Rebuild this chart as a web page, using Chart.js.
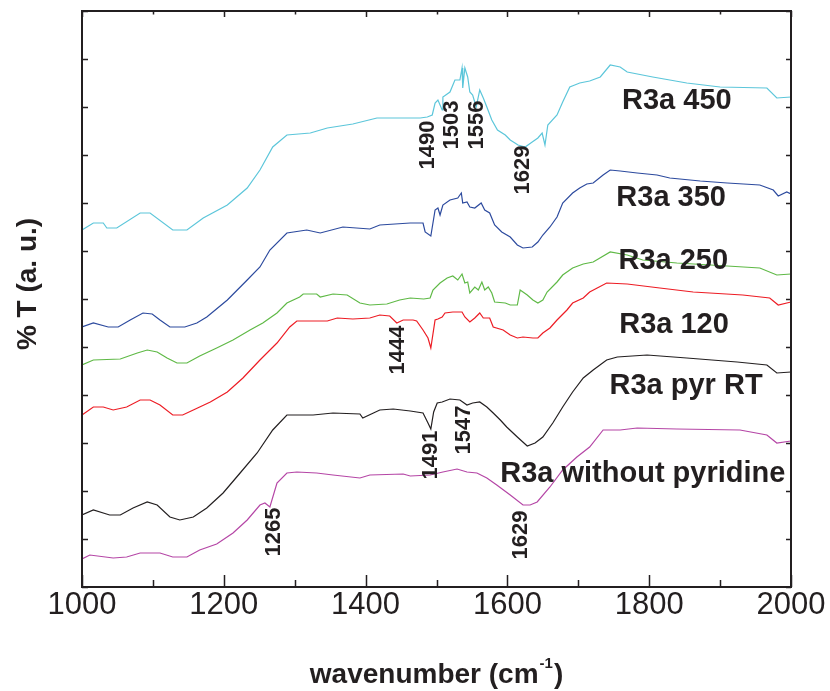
<!DOCTYPE html>
<html lang="en">
<head>
<meta charset="UTF-8">
<title>R3a pyridine FTIR</title>
<script src="https://cdn.jsdelivr.net/npm/chart.js"></script>
<style>
  body { margin: 0; background: #fff; }
  #wrap { width: 830px; height: 691px; }
</style>
</head>
<body>
<div id="wrap"><canvas id="ftir" width="830" height="691"></canvas></div>
<script>
// spectra: wavenumber (cm-1) and %T in stacked arbitrary units
const wn450 = [1000,1016,1030,1035,1049,1082,1096,1128,1148,1171,1205,1233,1251,1269,1289,1322,1346,1382,1416,1463,1477,1487,1494,1498,1502,1508,1509,1519,1526,1533,1536,1537,1540,1544,1547,1551,1556,1561,1566,1571,1578,1586,1597,1604,1615,1625,1635,1643,1649,1653,1657,1670,1678,1688,1695,1702,1716,1731,1745,1759,1769,1805,1853,1900,1966,1980,2000];
const t450  = [357,364,364,359,359,374,374,357,357,369,382,399,417,440,452,454,459,463,469,469,469,470,472,484,487,477,490,495,507,507,519,499,519,510,495,492,480,497,489,480,467,457,452,447,442,440,445,449,454,442,462,472,485,500,502,504,506,510,522,520,515,510,504,500,499,489,490];

const wn350 = [1000,1016,1037,1051,1068,1086,1099,1110,1124,1145,1162,1176,1205,1233,1251,1265,1289,1317,1336,1368,1406,1420,1463,1481,1484,1492,1498,1502,1505,1509,1519,1530,1535,1537,1543,1547,1554,1563,1568,1575,1582,1592,1604,1614,1622,1635,1643,1650,1660,1670,1678,1692,1702,1712,1721,1735,1745,1759,1783,1811,1829,1872,1910,1956,1975,1982,1994,2000];
const t350  = [260,264,260,260,267,274,273,267,260,260,264,270,287,307,320,337,354,357,354,360,358,362,364,364,355,351,377,379,372,382,387,389,394,384,385,380,379,384,377,374,362,355,350,342,339,340,345,352,360,370,384,394,399,403,404,412,417,416,414,412,409,406,404,402,397,391,395,393];

const wn250 = [1000,1016,1054,1078,1092,1106,1120,1134,1148,1166,1190,1213,1237,1255,1275,1289,1307,1312,1331,1336,1354,1374,1392,1406,1430,1448,1463,1482,1491,1495,1505,1515,1523,1530,1536,1540,1544,1547,1554,1559,1564,1568,1573,1578,1582,1597,1604,1614,1618,1628,1636,1643,1650,1656,1670,1678,1692,1707,1721,1745,1769,1791,1839,1910,1956,1980,2000];
const t250  = [222,227,228,234,237,235,229,224,224,231,239,247,257,264,274,284,290,293,293,290,293,292,284,282,283,287,289,288,289,297,304,309,311,307,313,304,305,294,300,297,305,297,300,294,285,284,282,282,297,292,287,284,287,295,305,312,319,323,325,335,332,327,324,321,319,312,313];

const wn120 = [1000,1016,1030,1044,1063,1082,1096,1110,1128,1142,1157,1181,1205,1227,1251,1275,1293,1303,1346,1360,1382,1406,1420,1434,1444,1453,1467,1472,1481,1488,1492,1498,1502,1508,1512,1523,1536,1540,1547,1554,1561,1566,1575,1580,1594,1604,1614,1622,1636,1643,1650,1660,1670,1684,1692,1707,1716,1740,1769,1815,1862,1932,1970,1982,2000];
const t120  = [172,180,180,177,180,187,187,182,172,172,177,185,195,209,227,244,260,266,266,269,268,269,272,271,264,267,267,266,257,249,239,267,268,270,274,275,275,270,265,269,274,269,269,260,257,252,249,250,249,249,254,259,267,277,284,289,295,304,303,299,295,292,289,282,285];

const wnRT = [1000,1016,1039,1054,1072,1092,1106,1124,1138,1157,1176,1199,1223,1247,1269,1289,1326,1354,1392,1396,1420,1439,1463,1481,1488,1492,1496,1501,1508,1519,1533,1543,1551,1561,1571,1580,1590,1599,1614,1628,1639,1650,1664,1678,1692,1707,1721,1740,1755,1797,1853,1924,1966,1980,2000];
const tRT  = [72,77,72,72,79,85,82,70,67,70,79,94,114,134,157,172,172,174,173,169,177,178,176,174,164,158,175,184,185,188,187,182,184,185,180,174,167,160,150,141,144,150,164,180,195,209,217,227,230,232,229,225,222,214,215];

const wnBare = [1000,1011,1044,1063,1082,1110,1128,1148,1166,1190,1213,1233,1251,1258,1265,1275,1289,1303,1331,1354,1392,1406,1453,1463,1491,1509,1529,1543,1557,1571,1585,1604,1622,1632,1642,1660,1678,1698,1716,1735,1759,1783,1839,1928,1966,1980,2000];
const tBare  = [28,32,29,30,34,34,30,30,37,43,54,67,82,84,80,104,114,115,114,112,109,112,113,111,112,115,118,115,114,109,102,92,82,82,85,100,117,130,140,157,157,159,158,157,152,144,146];

const seriesNames = ['R3a 450', 'R3a 350', 'R3a 250', 'R3a 120', 'R3a pyr RT', 'R3a without pyridine'];
const xMajorTicks = [1000, 1200, 1400, 1600, 1800, 2000];
const xMinorTicks = [1100, 1300, 1500, 1700, 1900];
const yTicks = [0, 48, 96, 144, 192, 240, 288, 336, 384, 432, 480, 528, 576];
const peakLabels = ['1490', '1503', '1556', '1629', '1444', '1491', '1547', '1265', '1629'];

// where the texts sit, in axis units
const nameAt = [[1839, 486], [1831, 389], [1834, 326], [1835, 262], [1852, 201], [1791, 113]];
const peakAt = [[1488, 442], [1522, 462], [1557, 462], [1622, 417], [1446, 237], [1492, 132], [1539, 157], [1271, 55], [1619, 52]];

const INK = '#231f20';
const FONT = '"Liberation Sans", Arial, Helvetica, sans-serif';

function pts(xs, ys) {
    return xs.map((v, i) => ({ x: v, y: ys[i] }));
}

const spectra = [
    { wn: wn450, t: t450, color: '#5cc6da' },
    { wn: wn350, t: t350, color: '#2c4a9e' },
    { wn: wn250, t: t250, color: '#5fb946' },
    { wn: wn120, t: t120, color: '#ed1c24' },
    { wn: wnRT, t: tRT, color: '#231f20' },
    { wn: wnBare, t: tBare, color: '#b546a6' }
];

const frame = {
    id: 'frame',
    afterDatasetsDraw(chart) {
        const { ctx, chartArea: a, scales: { x, y } } = chart;
        ctx.save();

        // box + inward ticks
        ctx.strokeStyle = INK;
        ctx.lineWidth = 2;
        ctx.strokeRect(a.left, a.top, a.right - a.left, a.bottom - a.top);
        ctx.lineWidth = 1.5;
        ctx.beginPath();
        xMajorTicks.concat(xMinorTicks).forEach(v => {
            const len = xMajorTicks.includes(v) ? 12 : 7;
            const px = Math.round(x.getPixelForValue(v)) + 0.5;
            ctx.moveTo(px, a.bottom); ctx.lineTo(px, a.bottom - len);
            ctx.moveTo(px, a.top); ctx.lineTo(px, a.top + len / 2);
        });
        yTicks.forEach(v => {
            const py = Math.round(y.getPixelForValue(v)) + 0.5;
            ctx.moveTo(a.left, py); ctx.lineTo(a.left + 6, py);
            ctx.moveTo(a.right, py); ctx.lineTo(a.right - 5, py);
        });
        ctx.stroke();

        ctx.fillStyle = INK;
        ctx.textAlign = 'center';
        ctx.textBaseline = 'middle';

        // spectrum names
        ctx.font = 'bold 29px ' + FONT;
        seriesNames.forEach((s, i) => {
            ctx.fillText(s, x.getPixelForValue(nameAt[i][0]), y.getPixelForValue(nameAt[i][1]));
        });

        // peak positions, vertical
        ctx.font = 'bold 22px ' + FONT;
        peakLabels.forEach((s, i) => {
            ctx.save();
            ctx.translate(x.getPixelForValue(peakAt[i][0]), y.getPixelForValue(peakAt[i][1]));
            ctx.rotate(-Math.PI / 2);
            ctx.fillText(s, 0, 0);
            ctx.restore();
        });

        // y title
        ctx.save();
        ctx.font = 'bold 28px ' + FONT;
        ctx.translate(28, 284);
        ctx.rotate(-Math.PI / 2);
        ctx.fillText('% T (a. u.)', 0, 0);
        ctx.restore();

        // x title with superscript
        ctx.textAlign = 'left';
        ctx.textBaseline = 'alphabetic';
        const big = 'bold 28px ' + FONT, small = 'bold 15px ' + FONT;
        ctx.font = big;
        const w1 = ctx.measureText('wavenumber (cm').width;
        const w3 = ctx.measureText(')').width;
        ctx.font = small;
        const w2 = ctx.measureText('-1').width + 2;
        let tx = (a.left + a.right) / 2 - (w1 + w2 + w3) / 2;
        const base = 683;
        ctx.font = big;
        ctx.fillText('wavenumber (cm', tx, base);
        ctx.font = small;
        ctx.fillText('-1', tx + w1 + 1, base - 15);
        ctx.font = big;
        ctx.fillText(')', tx + w1 + w2, base);

        ctx.restore();
    }
};

new Chart(document.getElementById('ftir'), {
    type: 'line',
    data: {
        datasets: spectra.map((s, i) => ({
            label: seriesNames[i],
            data: pts(s.wn, s.t),
            borderColor: s.color,
            borderWidth: 1.2,
            pointRadius: 0,
            tension: 0,
            fill: false
        }))
    },
    options: {
        responsive: false,
        animation: false,
        devicePixelRatio: 1,
        layout: { padding: { top: 11, right: 39, left: 0, bottom: 0 } },
        plugins: { legend: { display: false }, tooltip: { enabled: false } },
        scales: {
            x: {
                type: 'linear',
                min: 1000,
                max: 2000,
                afterFit: s => { s.height = 104; },
                grid: { display: false, drawTicks: false },
                border: { display: false },
                ticks: {
                    stepSize: 200,
                    padding: 3,
                    maxRotation: 0,
                    color: INK,
                    font: { family: FONT, size: 31, lineHeight: 1 },
                    callback: v => String(v)
                }
            },
            y: {
                type: 'linear',
                min: 0,
                max: 576,
                afterFit: s => { s.width = 82; },
                grid: { display: false, drawTicks: false },
                border: { display: false },
                ticks: { display: false }
            }
        }
    },
    plugins: [frame]
});
</script>
</body>
</html>
